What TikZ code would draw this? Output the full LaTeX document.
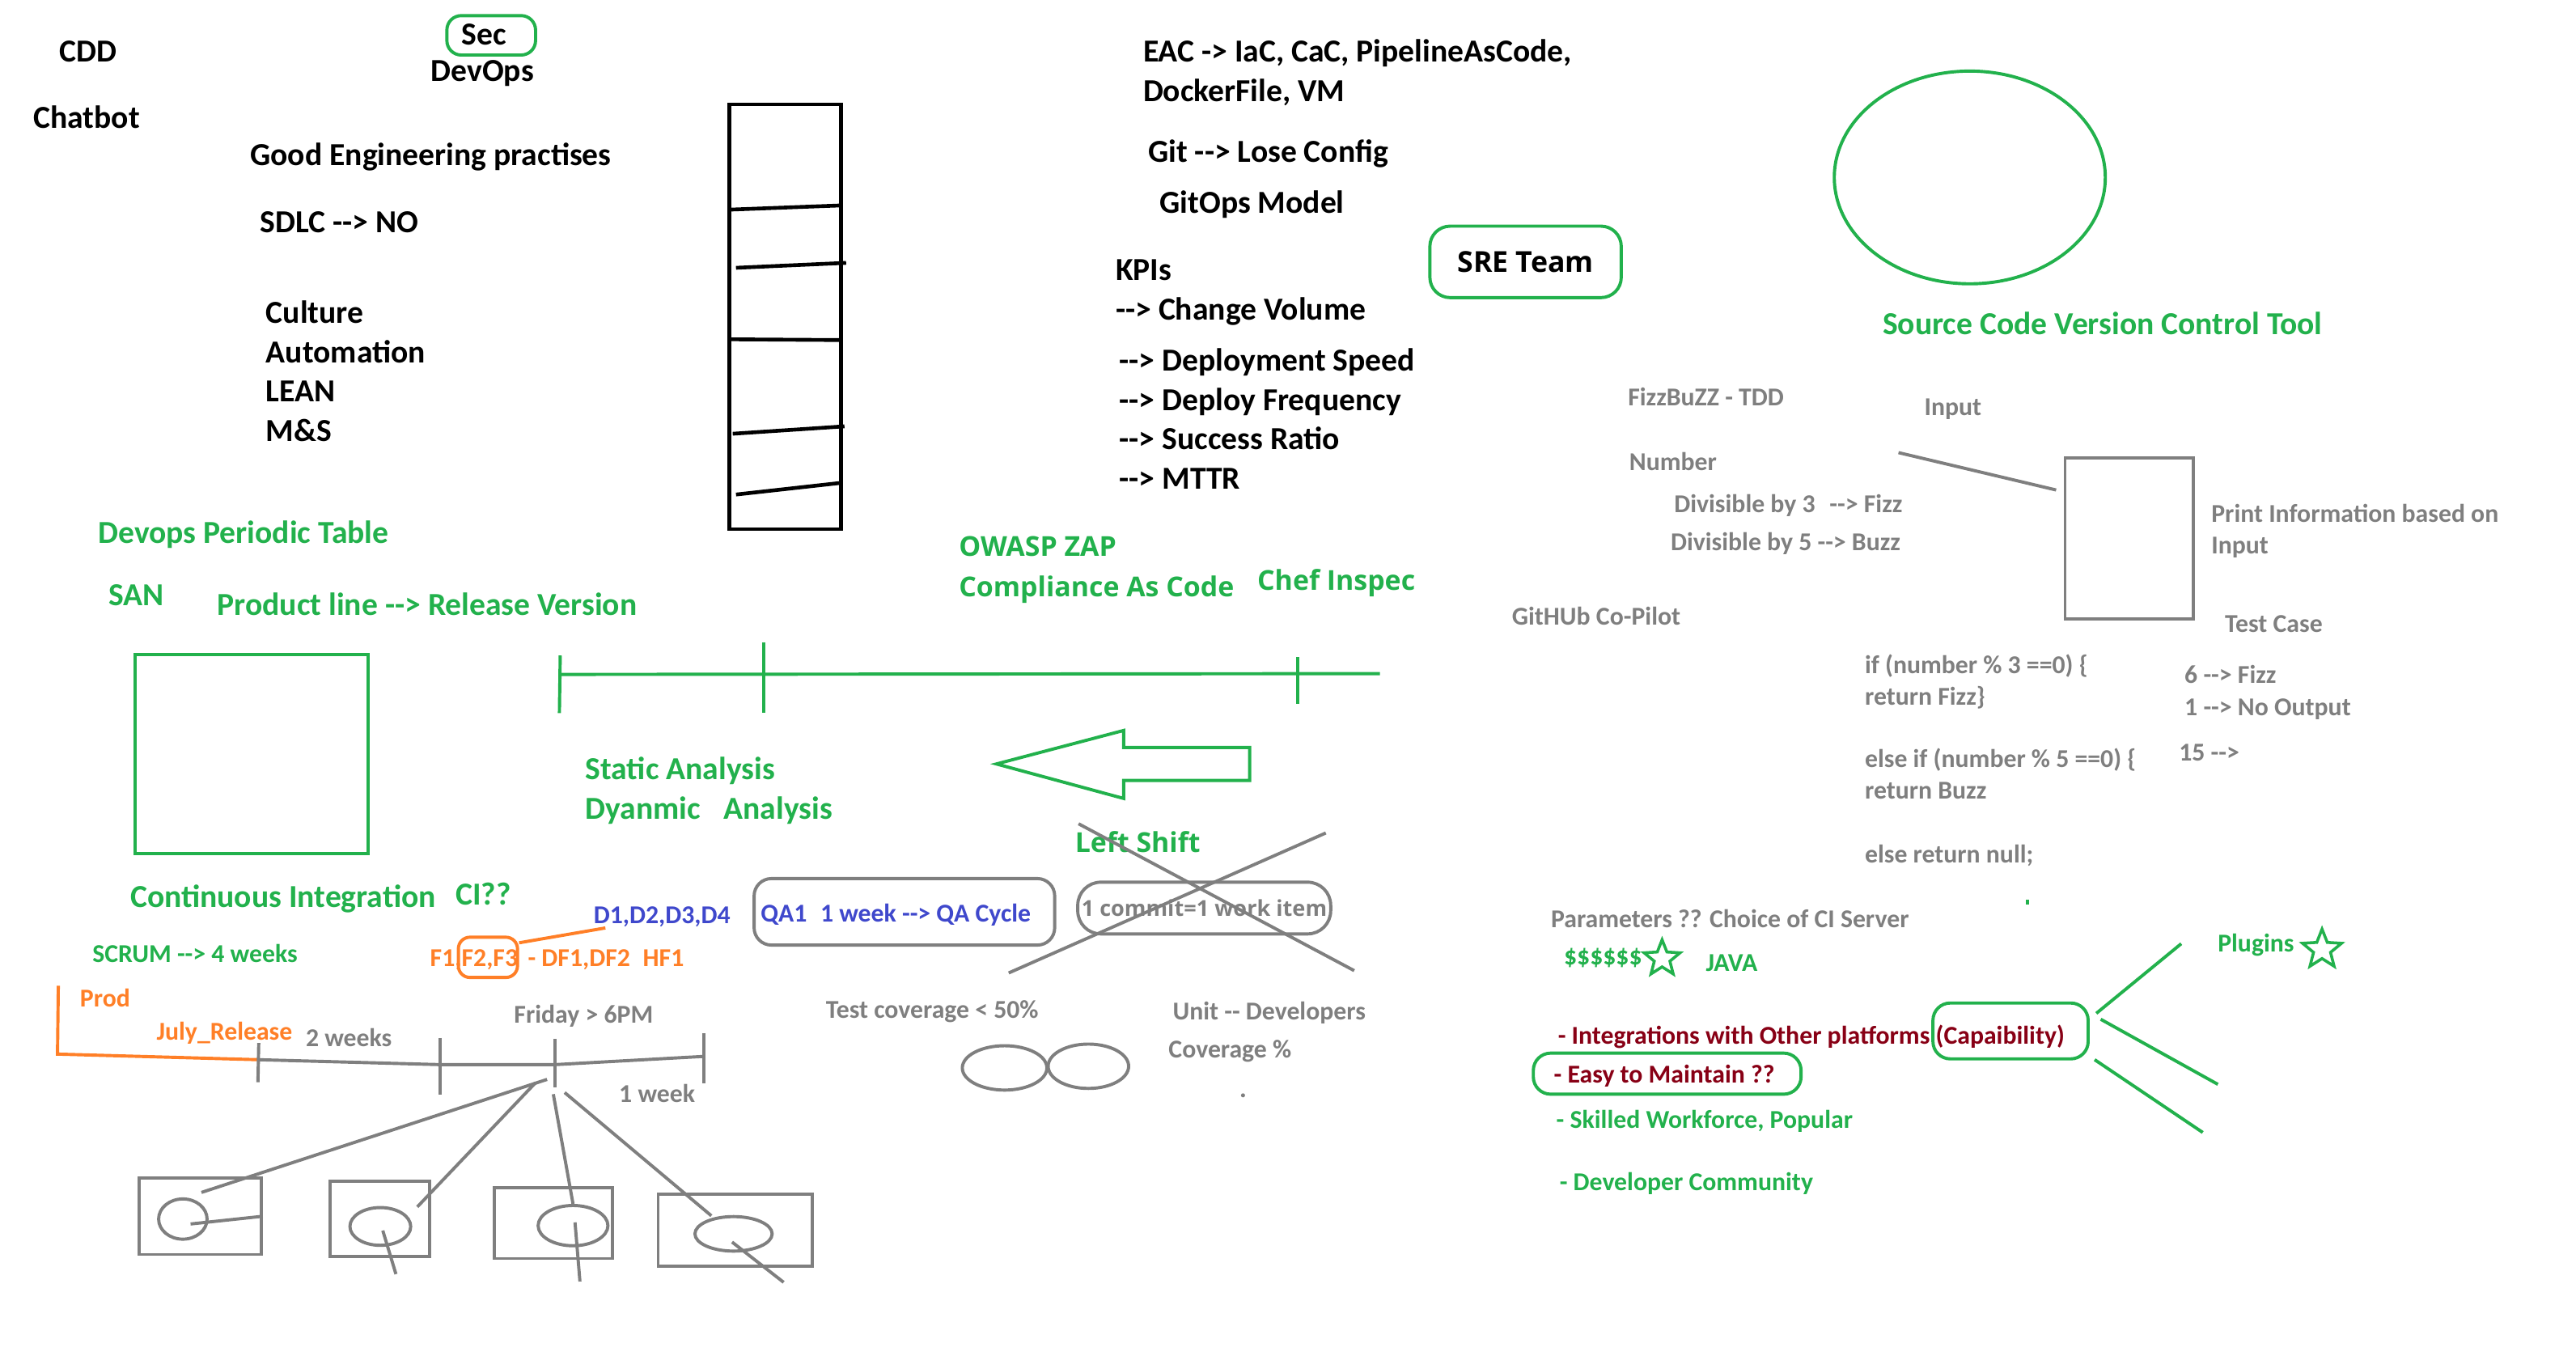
\documentclass[tikz,border=0pt]{standalone}
\usepackage{fontspec}
\setmainfont{Carlito}
\newfontfamily\uifont{Open Sans}
\usetikzlibrary{positioning,shapes.geometric}
\definecolor{paintgreen}{HTML}{22B14C}
\definecolor{paintgray}{HTML}{7F7F7F}
\definecolor{paintorange}{HTML}{FF7F27}
\definecolor{paintblue}{HTML}{3F48CC}
\definecolor{paintred}{HTML}{880015}
\newcommand{\darr}{-{}->}
\newcommand{\ddash}{-{}-}

\begin{document}
\begin{tikzpicture}[x=0.02cm, y=-0.02cm,
  bignote/.style={anchor=mid west, inner sep=0pt, yshift=-0.05cm, text=#1, font=\fontsize{11.1}{13}\selectfont\bfseries},
  bignote/.default=black,
  smallnote/.style={anchor=mid west, inner sep=0pt, yshift=-0.035cm, text=#1, font=\fontsize{8.9}{10.5}\selectfont\bfseries},
  smallnote/.default=paintgray,
  uinote/.style={anchor=mid west, inner sep=0pt, yshift=-0.05cm, text=#1, font=\uifont\fontsize{9.5}{11}\selectfont\bfseries},
  uinote/.default=paintgreen,
  inkline/.style={draw=black, line width=1.3pt},
  greenline/.style={draw=paintgreen, line width=1.1pt},
  grayline/.style={draw=paintgray, line width=1.1pt},
  orangeline/.style={draw=paintorange, line width=1.1pt},
  roundbox/.style={draw=#1, line width=1.1pt, rounded corners=5pt, inner sep=0pt},
  plainbox/.style={draw=#1, line width=1.1pt, inner sep=0pt},
  loop/.style={ellipse, draw=paintgray, line width=1.1pt, inner sep=0pt},
  starmark/.style={star, star points=5, star point ratio=2.3, draw=paintgreen, line width=1pt, inner sep=0pt, minimum size=#1}
]
\useasboundingbox (0,0) rectangle (1568,825);

% top left
\node[bignote] (cdd) at (36,31) {CDD};
\node[bignote] (chatbot) at (20,71.5) {Chatbot};
\node[roundbox=paintgreen, minimum width=1.08cm, minimum height=0.48cm] (sec) at (299,21.5) {};
\node[bignote] (sec-text) at (280.6,20.5) {Sec};
\node[bignote] (devops) at (262,43) {DevOps};
\node[bignote] (practices) at (152,94) {Good Engineering practises};
\node[bignote] (sdlc) at (158,135) {SDLC \darr{} NO};
\foreach \word/\ypos in {Culture/190, Automation/214, LEAN/238, M\&S/262}
  \node[bignote] (calms-\ypos) at (161.6,\ypos) {\word};

% periodic column
\draw[inkline] (444,63.5) rectangle (512,322);
\draw[inkline] (444,127.6) -- (513,125);
\draw[inkline] (448,163) -- (515,160);
\draw[inkline] (443,206.5) -- (513,207);
\draw[inkline] (446,264) -- (514,259.5);
\draw[inkline] (448,301) -- (511,294);

% top middle
\node[bignote] (eac) at (695.5,31) {EAC -> IaC, CaC, PipelineAsCode,};
\node[bignote] (docker) at (695.5,55) {DockerFile, VM};
\node[bignote] (git) at (698.6,92) {Git \darr{} Lose Config};
\node[bignote] (gitops) at (705.6,123) {GitOps Model};
\node[bignote] (kpis) at (678.8,164) {KPIs};
\node[bignote] (kpi-188) at (678.8,188) {\darr{} Change Volume};
\foreach \kpi/\ypos in {Deployment Speed/219, Deploy Frequency/243, Success Ratio/267, MTTR/291}
  \node[bignote] (kpi-\ypos) at (681,\ypos) {\darr{} \kpi};
\node[roundbox=paintgreen, rounded corners=7pt, minimum width=2.33cm, minimum height=0.87cm, font=\uifont\fontsize{10}{12}\selectfont\bfseries] (sre) at (928.6,159.4) {SRE Team};

% version control
\node[ellipse, draw=paintgreen, line width=1.1pt, minimum width=3.3cm, minimum height=2.59cm] (vcs) at (1199,108) {};
\node[bignote=paintgreen] (vcs-label) at (1145.6,197) {Source Code Version Control Tool};

% periodic table and release line
\node[bignote=paintgreen] (periodic) at (59.4,324) {Devops Periodic Table};
\node[bignote=paintgreen] (san) at (66,362) {SAN};
\node[bignote=paintgreen] (product) at (132,367.7) {Product line \darr{} Release Version};
\node[plainbox=paintgreen, minimum width=2.84cm, minimum height=2.42cm] (table) at (153,459) {};
\draw[greenline] (341,410.5) -- (840,410);
\draw[greenline] (341,399) -- (340.5,434);
\draw[greenline] (465,391) -- (465,434);
\draw[greenline] (790,400) -- (790,428.5);
\node[uinote] (owasp) at (583.4,332) {OWASP ZAP};
\node[uinote] (compliance) at (583.4,356.3) {Compliance As Code};
\node[uinote] (chef) at (765,352.7) {Chef Inspec};
\node[bignote=paintgreen] (static) at (356,467.8) {Static Analysis};
\node[bignote=paintgreen] (dynamic) at (356,492) {Dyanmic\hspace{8pt}Analysis};

% left shift arrow
\draw[greenline] (606.5,465) -- (684,444.6) -- (684,455) -- (760.7,455) -- (760.7,475) -- (684,475) -- (684,486) -- cycle;
\node[uinote] (leftshift) at (654,511.9) {Left Shift};

% QA and commit boxes
\node[roundbox=paintgray, rounded corners=6pt, minimum width=3.66cm, minimum height=0.81cm] (qabox) at (550.5,555) {};
\node[smallnote=paintblue] (qa1) at (462.7,555) {QA1};
\node[smallnote=paintblue] (qacycle) at (499,555) {1 week \darr{} QA Cycle};
\node[roundbox=paintgray, rounded corners=8pt, minimum width=3.08cm, minimum height=0.63cm, text=paintgray, font=\uifont\fontsize{7.6}{9}\selectfont\bfseries] (commit) at (733,552.7) {1 commit=1 work item};
\draw[grayline] (656.5,501.4) -- (824.3,590.8);
\draw[grayline] (807,507) -- (614,592.2);

% CI
\node[bignote=paintgreen] (ci) at (79,545.4) {Continuous Integration};
\node[bignote=paintgreen] (ci-q) at (277,544) {CI??};
\node[smallnote=paintblue] (devs) at (361,556.4) {D1,D2,D3,D4};
\node[smallnote=paintgreen] (scrum) at (56,580) {SCRUM \darr{} 4 weeks};
\node[smallnote=paintorange] (features) at (261.5,582.3) {F1,F2,F3};
\node[smallnote=paintorange] (defects) at (321,582.3) {- DF1,DF2};
\node[smallnote=paintorange] (hotfix) at (391,582.3) {HF1};
\node[roundbox=paintorange, rounded corners=4pt, minimum width=0.72cm, minimum height=0.49cm] (pick) at (297,582.7) {};
\draw[orangeline] (pick.25) -- ([xshift=0.15cm]devs.south west);

% sprint timeline
\node[smallnote=paintorange] (prod) at (48.4,607) {Prod};
\node[smallnote=paintorange] (july) at (95,627) {July\_Release};
\node[smallnote] (two-weeks) at (185.8,631) {2 weeks};
\node[smallnote] (friday) at (312.6,616.7) {Friday > 6PM};
\node[smallnote] (one-week) at (376.5,665) {1 week};
\coordinate (release) at (157,645);
\coordinate (hub) at (338,648);
\draw[orangeline] (35.5,600) -- (35,641.6) -- (release);
\draw[grayline] (release) -- (267.7,648) -- (hub) -- (428.3,643);
\draw[grayline] (157.5,634.8) -- (157,658.7);
\draw[grayline] (268,631.8) -- (268,666.2);
\draw[grayline] (hub |- 0,632.4) -- (338,662);
\draw[grayline] (428.3,628.8) -- (428.3,659.3);

% teams
\node[plainbox=paintgray, minimum width=1.49cm, minimum height=0.93cm] (team1) at (121.75,740.3) {};
\node[plainbox=paintgray, minimum width=1.21cm, minimum height=0.92cm] (team2) at (231.25,742) {};
\node[plainbox=paintgray, minimum width=1.44cm, minimum height=0.86cm] (team3) at (337,744.5) {};
\node[plainbox=paintgray, minimum width=1.88cm, minimum height=0.87cm] (team4) at (447.6,748.75) {};
\node[loop, minimum width=0.59cm, minimum height=0.49cm] (dev1) at (111.3,742) {};
\node[loop, minimum width=0.74cm, minimum height=0.46cm] (dev2) at (231.5,746.5) {};
\node[loop, minimum width=0.85cm, minimum height=0.49cm] (dev3) at (348.8,746) {};
\node[loop, minimum width=0.94cm, minimum height=0.42cm] (dev4) at (446.5,751) {};
\draw[grayline] (333,657) -- (122.6,725.8);
\draw[grayline] (326,659) -- (254,734.6);
\draw[grayline] (336.8,666) -- (dev3.north);
\draw[grayline] (343.7,665) -- (433,740);
\draw[grayline] (116,745) -- (team1.east);
\draw[grayline] (233,749) -- (241,775.5);
\draw[grayline] (350,744) -- (353,780);
\draw[grayline] (445.6,756) -- (477,780.5);

% coverage
\node[smallnote] (coverage) at (502.4,613.8) {Test coverage < 50\%};
\node[smallnote] (unit) at (713.5,614.6) {Unit \ddash{} Developers};
\node[smallnote] (unit-cov) at (711,638) {Coverage \%};
\node[loop, minimum width=1.03cm, minimum height=0.54cm] (cov-left) at (611.5,650) {};
\node[loop, minimum width=0.98cm, minimum height=0.54cm] (cov-right) at (662.5,649) {};
\fill[paintgray] (756.6,666.7) circle[radius=0.025cm];

% fizzbuzz
\node[smallnote] (fizzbuzz) at (990.6,241) {FizzBuZZ - TDD};
\node[smallnote] (input) at (1171,247) {Input};
\node[smallnote] (number) at (991.4,280.4) {Number};
\node[smallnote] (div3) at (1018.7,306) {Divisible by 3\hspace{5pt}\darr{} Fizz};
\node[smallnote] (div5) at (1016.6,329) {Divisible by 5 \darr{} Buzz};
\node[plainbox=paintgray, minimum width=1.56cm, minimum height=1.96cm] (fizzbox) at (1296,327.7) {};
\coordinate (input-wire) at (1155.6,275.5);
\draw[grayline] (input-wire) -- ([xshift=-0.09cm, yshift=-0.41cm]fizzbox.north west);
\node[smallnote] (print) at (1345.7,312) {Print Information based on};
\node[smallnote] (print-input) at (1345.7,331) {Input};
\node[smallnote] (copilot) at (920,374.5) {GitHUb Co-Pilot};
\node[smallnote] (testcase) at (1354,379) {Test Case};
\node[smallnote] (code1) at (1134.8,403.8) {if (number \% 3 ==0) \{};
\node[smallnote] (code2) at (1134.8,423) {return Fizz\}};
\node[smallnote] (code3) at (1134.8,461) {else if (number \% 5 ==0) \{};
\node[smallnote] (code4) at (1134.8,480.4) {return Buzz};
\node[smallnote] (code5) at (1134.8,519.5) {else return null;};
\node[smallnote] (case6) at (1329.4,410) {6 \darr{} Fizz};
\node[smallnote] (case1) at (1329.4,429.4) {1 \darr{} No Output};
\node[smallnote] (case15) at (1326,457) {15 \darr};
\draw[paintgreen, line width=1pt] (1234,547.5) -- (1234,550.5);

% CI server choice
\node[smallnote] (params) at (943.7,558.8) {Parameters ?? Choice of CI Server};
\node[smallnote=paintgreen] (cost) at (951.6,581.3) {\$\$\$\$\$\$};
\node[starmark=0.46cm] (cost-star) at (1011.7,583.5) {};
\node[smallnote=paintgreen] (java) at (1038,585) {JAVA};
\node[smallnote=paintgreen] (plugins) at (1349.6,573.6) {Plugins};
\node[starmark=0.5cm] (plugins-star) at (1413.4,578) {};
\node[smallnote=paintred] (integrations) at (948,629.4) {- Integrations with Other platforms (Capaibility)};
\node[roundbox=paintgreen, rounded corners=6pt, minimum width=1.89cm, minimum height=0.68cm] (capability) at (1223.8,627.5) {};
\node[roundbox=paintgreen, rounded corners=6pt, minimum width=3.26cm, minimum height=0.5cm] (maintain) at (1014.8,653.5) {};
\node[smallnote=paintred] (maintain-text) at (945.5,653.2) {- Easy to Maintain ??};
\node[smallnote=paintgreen] (skilled) at (947,681) {- Skilled Workforce, Popular};
\node[smallnote=paintgreen] (community) at (949,718.9) {- Developer Community};
\draw[greenline] (1276,616.8) -- (1327.7,574.4);
\draw[greenline] (1278.7,620.4) -- (1350,660);
\draw[greenline] (1275,645) -- (1340.8,689.3);
\end{tikzpicture}
\end{document}
